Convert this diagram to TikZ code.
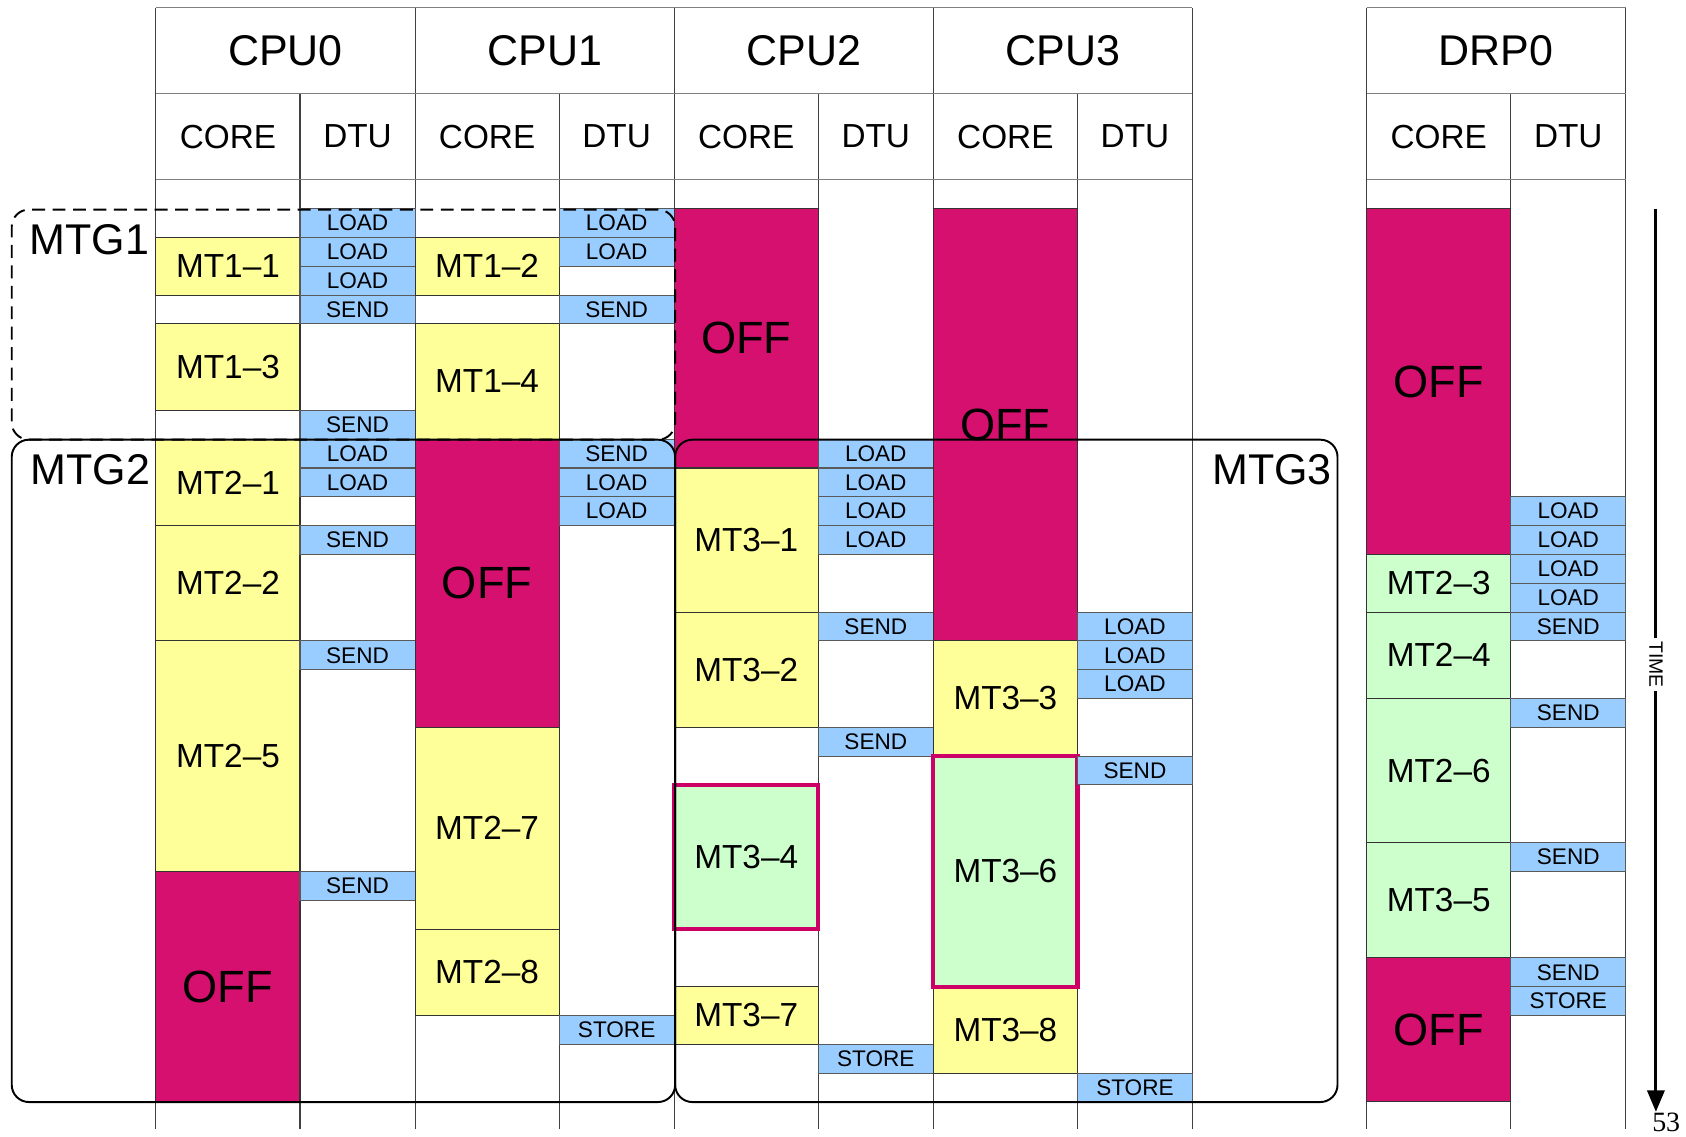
\documentclass[tikz,border=0pt]{standalone}
\usepackage{fontspec}
\setmainfont{Liberation Sans}
\newfontfamily\numfont{Liberation Serif}
\usetikzlibrary{arrows.meta}

\definecolor{taskyellow}{RGB}{255,255,153}
\definecolor{taskgreen}{RGB}{204,255,204}
\definecolor{xferblue}{RGB}{153,204,255}
\definecolor{offred}{RGB}{214,16,110}
\definecolor{hilite}{RGB}{204,0,102}

\begin{document}
\begin{tikzpicture}[
		x=0.5pt, y=-0.5pt,
		vline/.style={draw=black!75, line width=0.5pt},
		hline/.style={draw=black!50, line width=0.7pt},
		head/.style={font=\fontsize{20}{24}\selectfont},
		subhead/.style={font=\fontsize{15.5}{18}\selectfont},
		task/.style={
			draw=black!80,
			line width=0.5pt,
			minimum width=67pt,
			inner sep=0pt,
			outer sep=0pt,
			anchor=north,
			font=\fontsize{15.5}{18}\selectfont
		},
		hot/.style={task, fill=taskgreen, draw=hilite, line width=2pt},
		off/.style={task, fill=offred, font=\fontsize{21}{24}\selectfont},
		xfer/.style={
			draw=black!65,
			line width=0.5pt,
			fill=xferblue,
			minimum width=53.5pt,
			minimum height=13.4pt,
			inner sep=0pt,
			outer sep=0pt,
			anchor=north,
			font=\fontsize{10.5}{12}\selectfont
		},
		group/.style={
			draw=black,
			line width=0.9pt,
			rounded corners=8pt,
			inner sep=0pt,
			anchor=north west
		},
		grouplabel/.style={font=\fontsize{20}{24}\selectfont},
		timelbl/.style={rotate=-90, inner sep=1.5pt, font=\fontsize{9}{10}\selectfont},
		timeline/.style={draw=black, line width=1.4pt}
	]
		\useasboundingbox (0,0) rectangle (1568,1057);
		\fill[white] (0,0) rectangle (1568,1057);

		% table frame
		\foreach \l in {145,386,627,868,1271} {
			\draw[vline] (\l,7) -- (\l,1050);
			\draw[vline] (\l+134,87) -- (\l+134,1050);
		}
		\draw[vline] (1109,7) -- (1109,1050);
		\draw[vline] (1512,7) -- (1512,1050);
		\foreach \y in {7,87,167} {
			\draw[hline] (145,\y) -- (1109,\y);
			\draw[hline] (1271,\y) -- (1512,\y);
		}

		% headers
		\foreach \i in {0,...,3} {
			\node[head] (cpu\i) at ({265.5+241*\i},47) {CPU\i};
			\node[subhead] (cpu\i core) at ({212+241*\i},127) {CORE};
			\node[subhead] (cpu\i dtu) at ({332.5+241*\i},127) {DTU};
		}
		\node[head] (drp0) at (1391.5,47) {DRP0};
		\node[subhead] (drp0core) at (1338,127) {CORE};
		\node[subhead] (drp0dtu) at (1458.5,127) {DTU};

		% CPU0
		\foreach \a/\b/\t in {1/3/MT1--1,4/7/MT1--3,8/11/MT2--1,11/15/MT2--2,15/23/MT2--5}
			\node[task, fill=taskyellow, minimum height={(\b-\a)*13.4pt}] (cpu0mt\a) at (212,{194+26.8*\a}) {\t};
		\node[off, minimum height=107.2pt] (cpu0off) at (212,810.4) {OFF};
		\foreach \a/\t in {0/LOAD,1/LOAD,2/LOAD,3/SEND,7/SEND,8/LOAD,9/LOAD,11/SEND,15/SEND,23/SEND}
			\node[xfer] (cpu0x\a) at (332.5,{194+26.8*\a}) {\t};

		% CPU1
		\foreach \a/\b/\t in {1/3/MT1--2,4/8/MT1--4,18/25/MT2--7,25/28/MT2--8}
			\node[task, fill=taskyellow, minimum height={(\b-\a)*13.4pt}] (cpu1mt\a) at (453,{194+26.8*\a}) {\t};
		\node[off, minimum height=134pt] (cpu1off) at (453,408.4) {OFF};
		\foreach \a/\t in {0/LOAD,1/LOAD,3/SEND,8/SEND,9/LOAD,10/LOAD,28/STORE}
			\node[xfer] (cpu1x\a) at (573.5,{194+26.8*\a}) {\t};

		% CPU2
		\node[off, minimum height=120.6pt] (cpu2off) at (694,194) {OFF};
		\foreach \a/\b/\t in {9/14/MT3--1,14/18/MT3--2,27/29/MT3--7}
			\node[task, fill=taskyellow, minimum height={(\b-\a)*13.4pt}] (cpu2mt\a) at (694,{194+26.8*\a}) {\t};
		\node[hot, minimum height=67pt] (cpu2mt20) at (694,730) {MT3--4};
		\foreach \a/\t in {8/LOAD,9/LOAD,10/LOAD,11/LOAD,14/SEND,18/SEND,29/STORE}
			\node[xfer] (cpu2x\a) at (814.5,{194+26.8*\a}) {\t};

		% CPU3
		\node[off, minimum height=201pt] (cpu3off) at (935,194) {OFF};
		\foreach \a/\b/\t in {15/19/MT3--3,27/30/MT3--8}
			\node[task, fill=taskyellow, minimum height={(\b-\a)*13.4pt}] (cpu3mt\a) at (935,{194+26.8*\a}) {\t};
		\node[hot, minimum height=107.2pt] (cpu3mt19) at (935,703.2) {MT3--6};
		\foreach \a/\t in {14/LOAD,15/LOAD,16/LOAD,19/SEND,30/STORE}
			\node[xfer] (cpu3x\a) at (1055.5,{194+26.8*\a}) {\t};

		% DRP0
		\node[off, minimum height=160.8pt] (drp0off0) at (1338,194) {OFF};
		\foreach \a/\b/\t in {12/14/MT2--3,14/17/MT2--4,17/22/MT2--6,22/26/MT3--5}
			\node[task, fill=taskgreen, minimum height={(\b-\a)*13.4pt}] (drp0mt\a) at (1338,{194+26.8*\a}) {\t};
		\node[off, minimum height=67pt] (drp0off26) at (1338,890.8) {OFF};
		\foreach \a/\t in {10/LOAD,11/LOAD,12/LOAD,13/LOAD,14/SEND,17/SEND,22/SEND,26/SEND,27/STORE}
			\node[xfer] (drp0x\a) at (1458.5,{194+26.8*\a}) {\t};

		% task groups
		\node[group, dash pattern=on 6pt off 3.5pt, minimum width=308.5pt, minimum height=107pt] (mtg1) at (10,194) {};
		\node[group, minimum width=308.5pt, minimum height=308pt] (mtg2) at (10,408) {};
		\node[group, minimum width=308pt, minimum height=308pt] (mtg3) at (627,408) {};
		\node[grouplabel] (mtg1lbl) at (83,223) {MTG1};
		\node[grouplabel] (mtg2lbl) at (84,437) {MTG2};
		\node[grouplabel] (mtg3lbl) at (1183,437) {MTG3};

		% time axis
		\coordinate (tstart) at (1540,194);
		\coordinate (tend) at (1540,1034);
		\node[timelbl] (time) at (1540,618) {TIME};
		\draw[timeline] (tstart) -- (time);
		\draw[timeline, -{Triangle[length=10pt,width=8pt]}] (time) -- (tend);

		\node[anchor=south east, inner sep=0pt, font=\numfont\fontsize{13}{16}\selectfont] (pagenum) at (1563,1053) {53};
	\end{tikzpicture}
\end{document}
